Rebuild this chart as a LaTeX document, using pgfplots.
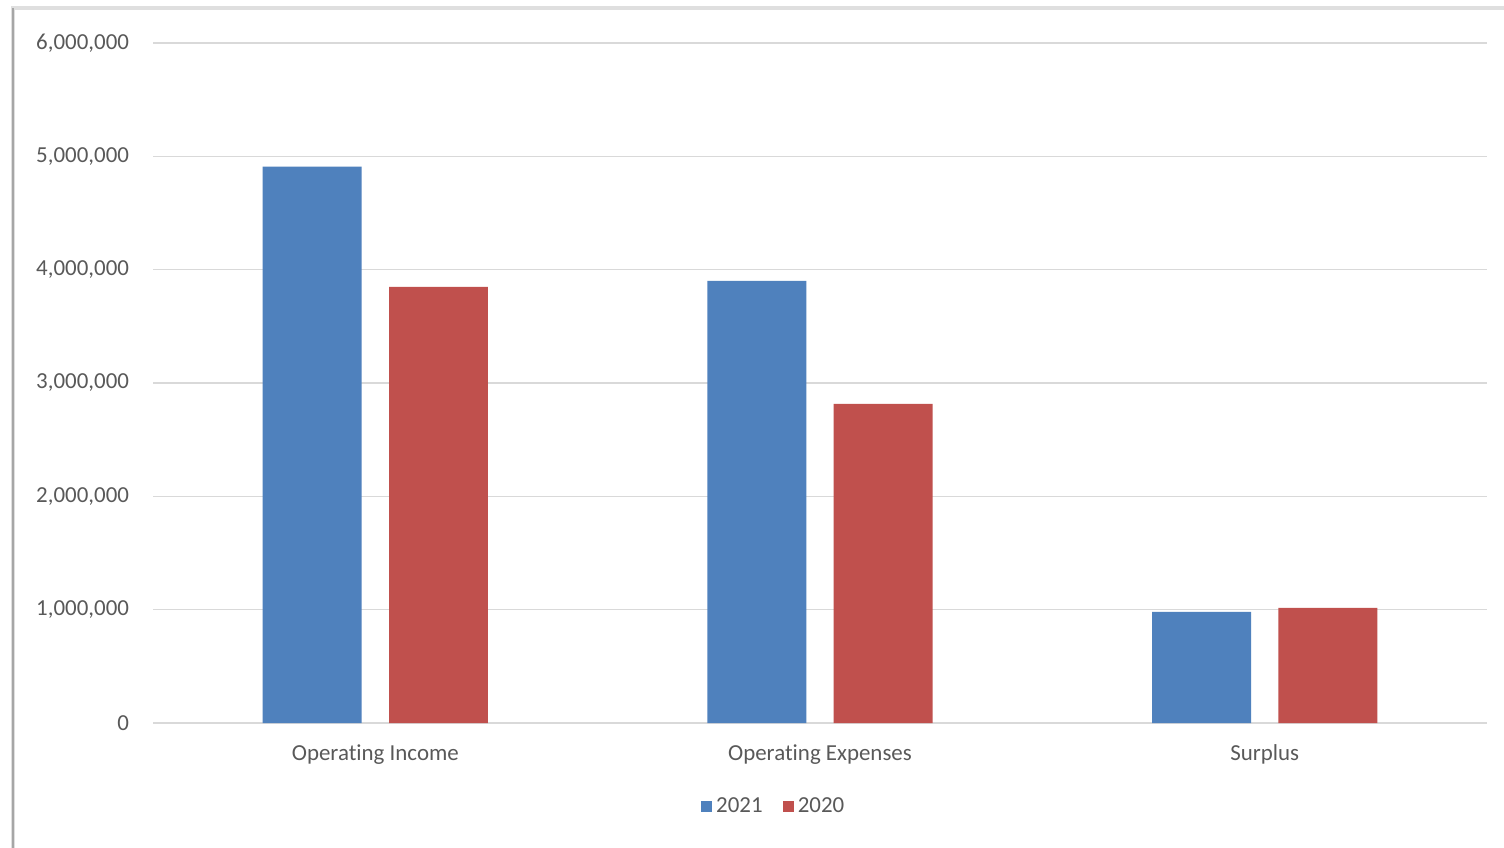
\documentclass[border=0pt]{standalone}
\usepackage{pgfplots}
\pgfplotsset{compat=1.18}
\usepackage{fontspec}
\setmainfont{Carlito}[Ligatures={NoCommon}]
\definecolor{barblue}{RGB}{79,129,189}
\definecolor{barred}{RGB}{192,80,77}
\definecolor{gridgray}{RGB}{217,217,217}
\definecolor{txtgray}{RGB}{89,89,89}
\begin{document}
\fontsize{11.5}{13}\selectfont
\begin{tikzpicture}
\path[use as bounding box, fill=white] (0,0) rectangle (752bp,424bp);
\draw[gray!25, line width=2bp] (6.5bp,0) -- (6.5bp,420bp) -- (752bp,420bp);
\draw[gray!70, line width=0.8bp] (6.5bp,0) -- (6.5bp,420bp);
\begin{axis}[
  at={(76.5bp,62.5bp)}, anchor=south west,
  scale only axis,
  width=667bp, height=340bp,
  xmin=-0.5, xmax=2.5,
  ymin=0, ymax=6000000,
  ytick={0,1000000,2000000,3000000,4000000,5000000,6000000},
  scaled y ticks=false,
  /pgf/number format/fixed,
  /pgf/number format/1000 sep={,},
  /pgf/number format/assume math mode=true,
  yticklabel style={text=txtgray, font=\fontsize{11.5}{13}\selectfont, xshift=-8bp},
  xtick={0,1,2},
  xticklabels={Operating Income, Operating Expenses, Surplus},
  xticklabel style={text=txtgray, font=\fontsize{11.5}{13}\selectfont, yshift=-7bp},
  ymajorgrids,
  grid style={gridgray, line width=0.8bp},
  axis line style={draw=none},
  major tick length=0pt,
  tick style={draw=none},
  ybar,
  bar width=0.2225,
  legend style={at={(0.466,-0.123)}, anchor=center, draw=none, fill=none,
    legend columns=2, font=\fontsize{11.5}{13}\selectfont, text=txtgray,
    /tikz/every even column/.append style={column sep=8bp}},
  legend image code/.code={\fill[#1] (0bp,-2.8bp) rectangle (5.6bp,2.8bp);},
  clip=false,
]
\draw[gridgray, line width=0.8bp] (axis cs:-0.5,0) -- (axis cs:2.5,0);
\addplot[fill=barblue, draw=none, bar shift=-0.142] coordinates {(0,4910000) (1,3900000) (2,980000)};
\addlegendentry{2021}
\addplot[fill=barred, draw=none, bar shift=0.142] coordinates {(0,3848000) (1,2815000) (2,1015000)};
\addlegendentry{2020}
\end{axis}
\end{tikzpicture}
\end{document}
